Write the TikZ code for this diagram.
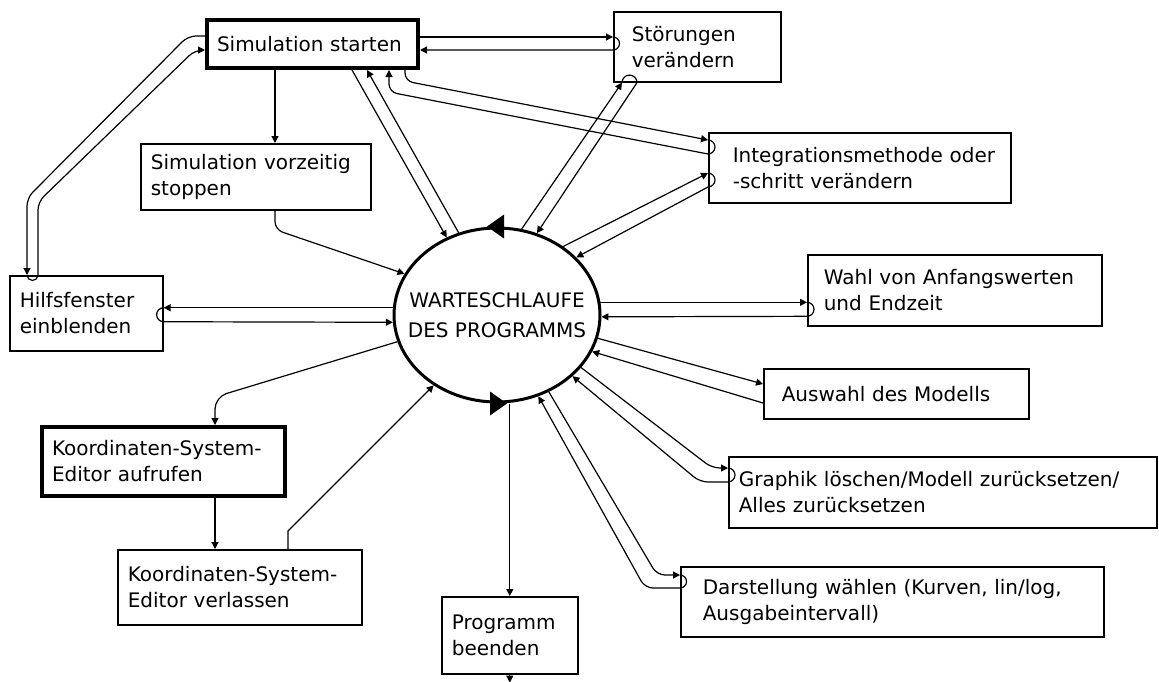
\documentclass[tikz,border=0pt]{standalone}
\usepackage{fontspec}
\setmainfont{DejaVu Sans}
\usetikzlibrary{shapes.geometric,arrows.meta,positioning,calc}

\begin{document}
\begin{tikzpicture}[x=0.5pt,y=-0.5pt,
    font=\fontsize{10}{13}\selectfont,
    kasten/.style={draw, line width=0.8pt, anchor=north west, align=left, inner xsep=5pt, inner ysep=0pt},
    dick/.style={kasten, line width=2pt},
    pfeil/.style={line width=0.6pt, -{Triangle[length=3.5pt,width=3.5pt]}},
    bogen/.style={rounded corners=4pt}]
    \useasboundingbox (0,0) rectangle (1159,681);

    \node[dick, text width=95.5pt, minimum height=24pt] (start) at (205,18) {Simulation starten};
    \node[kasten, text width=73.5pt, minimum height=35pt] (stoer) at (613,11) {\hspace*{4pt}Störungen\\\hspace*{4pt}verändern};
    \node[kasten, text width=105pt, minimum height=33pt] (stopp) at (140,143) {Simulation vorzeitig\\stoppen};
    \node[kasten, text width=141pt, minimum height=35pt] (integ) at (708,132) {\hspace*{7pt}Integrationsmethode oder\\\hspace*{7pt}-schritt verändern};
    \node[kasten, text width=66.5pt, minimum height=37.5pt] (hilfe) at (9,275) {Hilfsfenster\\einblenden};
    \node[draw, ellipse, line width=1.5pt, minimum width=103pt, minimum height=87pt, inner sep=0pt, align=center] (warte) at (497,315) {\makebox[0pt]{WARTESCHLAUFE}\\[2pt]\makebox[0pt]{DES PROGRAMMS}};
    \node[kasten, text width=137pt, minimum height=35.5pt] (wahl) at (807,254) {\hspace*{3pt}Wahl von Anfangswerten\\\hspace*{3pt}und Endzeit};
    \node[kasten, text width=122.5pt, minimum height=25pt] (modell) at (763,368) {\hspace*{4pt}Auswahl des Modells};
    \node[dick, text width=111.5pt, minimum height=34.5pt] (koordauf) at (40,425) {Koordinaten-System-\\Editor aufrufen};
    \node[kasten, text width=112pt, minimum height=37.5pt] (koordverl) at (117,549) {Koordinaten-System-\\Editor verlassen};
    \node[kasten, text width=58pt, minimum height=38.5pt] (ende) at (441,596) {Programm\\beenden};
    \node[kasten, text width=204pt, minimum height=35.5pt] (graphik) at (728,456) {Graphik löschen/Modell zurücksetzen/\\Alles zurücksetzen};
    \node[kasten, text width=201.5pt, minimum height=35pt] (darst) at (680,566) {\hspace*{6pt}Darstellung wählen (Kurven, lin/log,\\\hspace*{6pt}Ausgabeintervall)};

    \fill ($(warte.north)+(-10,0)$) -- ($(warte.north)+(7,-12)$) -- ($(warte.north)+(7,12)$) -- cycle;
    \fill ($(warte.south)+(10,0)$) -- ($(warte.south)+(-7,-12)$) -- ($(warte.south)+(-7,12)$) -- cycle;

    \draw[pfeil] ($(start.south west)+(70,0)$) -- ($(stopp.north west)+(135,0)$);
    \draw[pfeil, bogen] ($(stopp.south west)+(135,0)$) -- ++(0,19) -- (warte.156);

    \draw[pfeil] ($(start.south west)+(147,0)$) -- (warte.123);
    \draw[pfeil] (warte.115) -- ($(start.south west)+(162,0)$);

    \draw[pfeil] ($(start.north east)+(0,19)$) -- ($(stoer.north west)+(0,26)$);
    \draw[pfeil] ($(stoer.north west)+(0,26)$) arc[start angle=90, end angle=-90, radius=3.25pt] -- ($(start.north east)+(0,32)$);

    \draw[pfeil] (warte.74) -- ($(stoer.south west)+(9,0)$);
    \draw[pfeil] ($(stoer.south west)+(9,0)$) arc[start angle=180, end angle=0, radius=3.75pt] -- (warte.64);

    \draw[pfeil, bogen] ($(start.south west)+(200,0)$) -- ++(0,11) -- ($(integ.north west)+(0,8)$);
    \draw[pfeil] ($(integ.north west)+(0,8)$) arc[start angle=90, end angle=-90, radius=3.5pt] [rounded corners=4pt] -- ($(start.south west)+(184,22)$) -- ($(start.south west)+(184,0)$);

    \draw[pfeil] (warte.46) -- ($(integ.north west)+(0,41)$);
    \draw[pfeil] ($(integ.north west)+(0,41)$) arc[start angle=90, end angle=-90, radius=3.5pt] -- (warte.36);

    \draw[pfeil, bogen] ($(start.north west)+(0,18)$) -- ++(-17,0) -- ($(hilfe.north west)+(18,-77)$) -- ($(hilfe.north west)+(18,0)$);
    \draw[pfeil] ($(hilfe.north west)+(18,0)$) arc[start angle=180, end angle=360, radius=2.75pt] [rounded corners=4pt] -- ($(hilfe.north west)+(29,-73)$) -- ($(start.north west)+(-10,32)$) -- ($(start.north west)+(0,32)$);

    \draw[pfeil] (warte.176) -- (warte.176 -| hilfe.east);
    \draw[pfeil] (warte.176 -| hilfe.east) arc[start angle=90, end angle=270, radius=3.5pt] -- (warte.184);

    \draw[pfeil, rounded corners=6pt] (warte.195) -- ($(koordauf.north west)+(175,-28)$) -- ($(koordauf.north west)+(175,0)$);
    \draw[pfeil] ($(koordauf.south west)+(175,0)$) -- ($(koordverl.north west)+(98,0)$);
    \draw[pfeil] ($(koordverl.north west)+(171,0)$) -- ++(0,-18) -- (warte.228);

    \draw[pfeil] (warte.south -| ende.north) -- (ende.north);
    \coordinate (aus) at ($(ende.south)+(0,8)$);
    \draw[pfeil] (ende.south) -- (aus);

    \draw[pfeil] (warte.7) -- (warte.7 -| wahl.west);
    \draw[pfeil] (warte.7 -| wahl.west) arc[start angle=90, end angle=-90, radius=3.5pt] -- (warte.359);

    \draw[pfeil] (warte.347) -- ($(modell.north west)+(0,16)$);
    \draw[pfeil] ($(modell.north west)+(0,35)$) -- (warte.339);

    \draw[pfeil, bogen] (warte.328) -- ($(graphik.north west)+(-16,12)$) -- ($(graphik.north west)+(0,12)$);
    \draw[pfeil] ($(graphik.north west)+(0,12)$) arc[start angle=90, end angle=-90, radius=3.5pt] [rounded corners=4pt] -- ($(graphik.north west)+(-28,26)$) -- (warte.321);

    \draw[pfeil, bogen] (warte.304) -- ($(darst.north west)+(-23,9)$) -- ($(darst.north west)+(0,9)$);
    \draw[pfeil] ($(darst.north west)+(0,9)$) arc[start angle=90, end angle=-90, radius=3.25pt] [rounded corners=4pt] -- ($(darst.north west)+(-35,22)$) -- (warte.297);
\end{tikzpicture}
\end{document}
